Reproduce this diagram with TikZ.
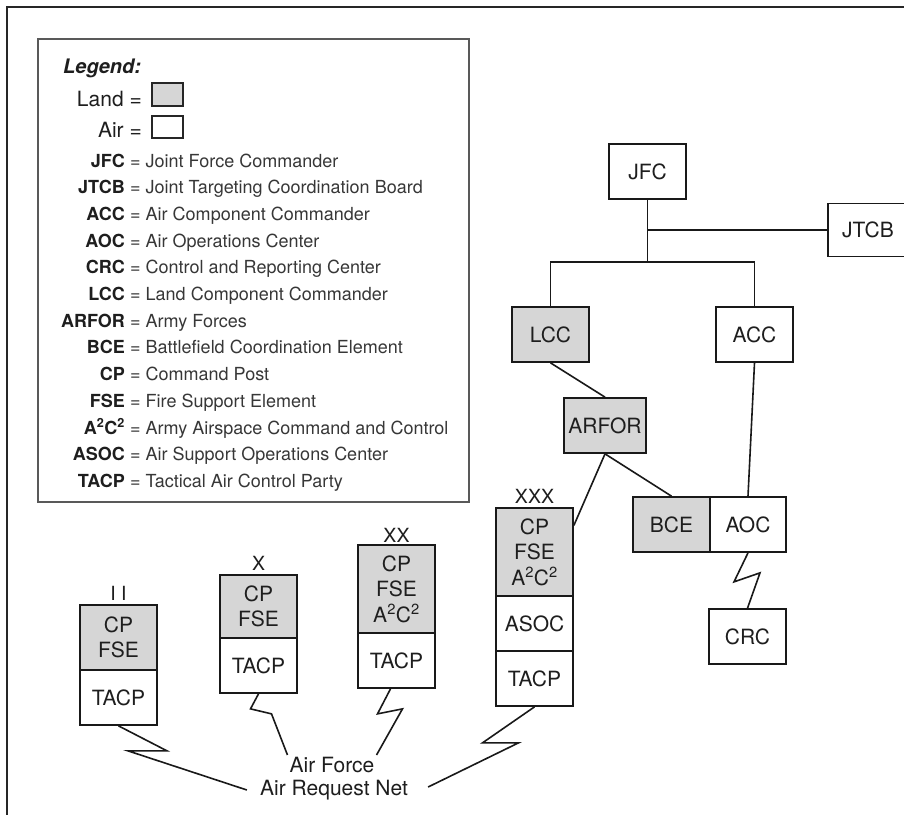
\documentclass[tikz,border=0pt]{standalone}
\usepackage{fontspec}
\setmainfont{TeX Gyre Heros}
\usetikzlibrary{calc}
\definecolor{landgray}{RGB}{214,214,214}
\definecolor{txt}{RGB}{30,30,30}
\definecolor{desctxt}{RGB}{55,55,55}
\newcommand\atwoctwo{A\textsuperscript{2}C\textsuperscript{2}}
\begin{document}
\begin{tikzpicture}[x=1pt,y=-1pt,
  box/.style={draw=black!90, line width=1.7pt, minimum width=77pt, minimum height=55pt, inner sep=0pt,
    font=\fontsize{21}{25.5}\selectfont, align=center, text=txt},
  land/.style={box, fill=landgray},
  wire/.style={line width=1.6pt, line join=miter, draw=black!90},
  abbr/.style={anchor=base east, inner sep=0pt, font=\fontsize{18}{20}\selectfont\bfseries, text=txt},
  desc/.style={anchor=base west, inner sep=0pt, font=\fontsize{18}{20}\selectfont, text=desctxt},
  echelon/.style={anchor=base, inner sep=0pt, font=\fontsize{19.5}{20}\selectfont, text=txt},
  netlabel/.style={inner sep=2pt, font=\fontsize{21}{24}\selectfont, text=txt},
  swatch/.style={draw=black!85, line width=1.2pt, minimum width=31pt, inner sep=0pt}
]
\useasboundingbox (0,0) rectangle (904,815);
\fill[white] (0,0) rectangle (904,815);

% outer frame
\draw[line width=2pt, black!85] (904,7) -- (7,7) -- (7,815);

% legend
\node[draw=black!65, line width=1.2pt, minimum width=431pt, minimum height=463pt, inner sep=0pt] (legend) at (253.5,270.5) {};
\node[anchor=base west, inner sep=0pt, font=\fontsize{20}{24}\selectfont\bfseries\itshape, text=txt] (legtitle) at (63,73) {Legend:};
\node[anchor=base east, inner sep=0pt, font=\fontsize{21}{24}\selectfont, text=txt] (landlab) at (142,106) {Land =};
\node[anchor=base east, inner sep=0pt, font=\fontsize{21}{24}\selectfont, text=txt] (airlab) at (142,137) {Air =};
\node[swatch, fill=landgray, minimum height=23pt] (landsw) at (167.5,94.5) {};
\node[swatch, fill=white, minimum height=22pt] (airsw) at (167.5,127) {};

\foreach [count=\i from 0] \a/\d in {JFC/Joint Force Commander,
  JTCB/Joint Targeting Coordination Board,
  ACC/Air Component Commander,
  AOC/Air Operations Center,
  CRC/Control and Reporting Center,
  LCC/Land Component Commander,
  ARFOR/Army Forces,
  BCE/Battlefield Coordination Element,
  CP/Command Post,
  FSE/Fire Support Element,
  \atwoctwo/Army Airspace Command and Control,
  ASOC/Air Support Operations Center,
  TACP/Tactical Air Control Party}{
  \node[abbr] (ab\i) at (125,167+26.7*\i) {\a};
  \node[desc] (de\i) at (130,167+26.7*\i) {= \d};
}

% command structure
\node[box] (jfc) at (647.5,171.5) {JFC};
\node[box, minimum width=80pt, minimum height=53pt] (jtcb) at (868,230) {JTCB};
\node[land] (lcc) at (550.5,334.5) {LCC};
\node[box] (acc) at (754.5,334.5) {ACC};
\node[land, minimum width=82pt] (arfor) at (605,425.5) {ARFOR};
\node[land] (bce) at (671.5,524.5) {BCE};
\node[box, minimum width=76pt] (aoc) at (748,524.5) {AOC};
\node[box] (crc) at (747.5,636.5) {CRC};

% XXX (corps)
\node[echelon] (xxxlab) at (534.5,503) {XXX};
\node[land, minimum height=88pt] (xxxtop) at (534.5,552) {CP\\FSE\\\atwoctwo};
\node[box] (asoc) at (534.5,623.5) {ASOC};
\node[box] (xxxtacp) at (534.5,678.5) {TACP};

% XX (division)
\node[echelon] (xxlab) at (396.5,542) {XX};
\node[land, minimum height=88pt] (xxtop) at (396.5,589) {CP\\FSE\\\atwoctwo};
\node[box] (xxtacp) at (396.5,660.5) {TACP};

% X (brigade)
\node[echelon] (xlab) at (258.5,570) {X};
\node[land, minimum height=63pt] (xtop) at (258.5,606.5) {CP\\FSE};
\node[box] (xtacp) at (258.5,665.5) {TACP};

% II (battalion)
\node[echelon] (iilab) at (118.5,600) {I I};
\node[land, minimum height=65pt] (iitop) at (118.5,637.5) {CP\\FSE};
\node[box] (iitacp) at (118.5,697.5) {TACP};

% net labels
\node[netlabel] (af) at (332,765) {Air Force};
\node[netlabel] (arn) at (334,790) {Air Request Net};

% connectors
\coordinate (jside) at (647.5,230);
\coordinate (jbranch) at (647.5,262);
\draw[wire] (jfc.south) -- (jbranch);
\draw[wire] (jside) -- (jtcb.west);
\draw[wire] (lcc.north) -- (lcc.north |- jbranch) -- (acc.north |- jbranch) -- (acc.north);
\draw[wire] (lcc.south) -- (arfor.north);
\draw[wire] (arfor.south) -- (bce.north);
\draw[wire] (arfor.south) -- (xxxtop.34);
\draw[wire] (acc.south) -- (aoc.north);
\draw[wire] (aoc.south) -- ++(-14,29) -- ++(26,-9) -- (crc.north);

\draw[wire] (iitacp.south) -- ++(48.5,25) -- ++(-39,0) -- ($(arn.west)+(-11,0)$);
\draw[wire] (xtacp.south) -- ++(-8,15) -- ++(21,5) -- (af.north west);
\draw[wire] ($(xxtacp.south)+(-6,0)$) -- ++(-13,25) -- ++(25,-5) -- (af.north east);
\draw[wire] (xxxtacp.south) -- ++(-52,36) -- ++(36,0) -- ($(arn.east)+(18,-3)$);
\end{tikzpicture}
\end{document}
